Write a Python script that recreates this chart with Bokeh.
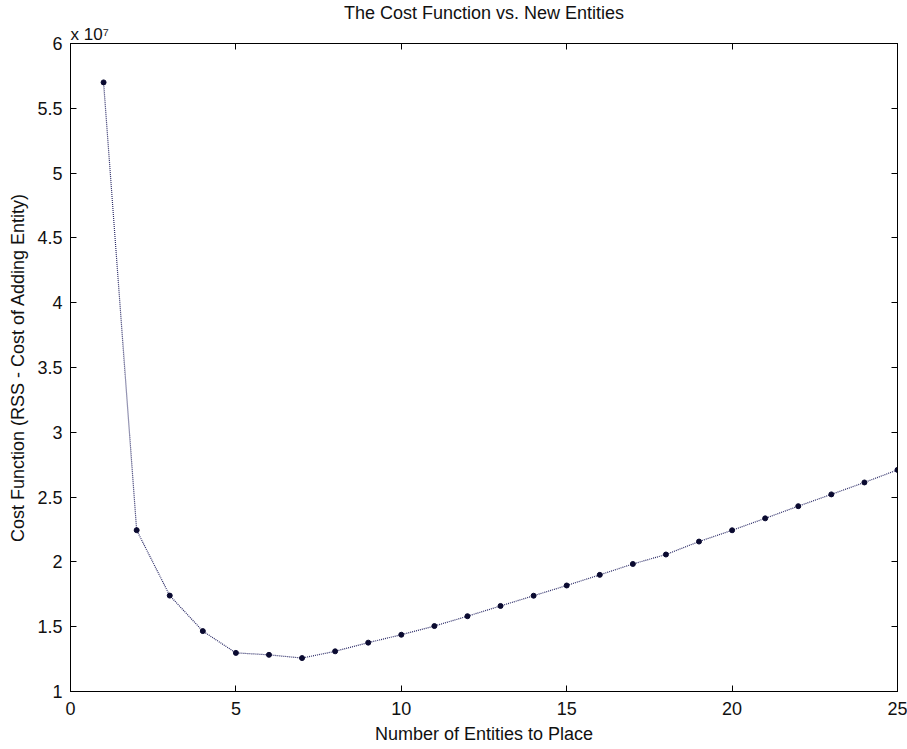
from bokeh.plotting import figure
from bokeh.models import LinearAxis, Title, FixedTicker, CustomJSTickFormatter, Range1d
from bokeh.embed import file_html
from bokeh.resources import INLINE

# ---- data ----
entities = list(range(1, 26))
cost = [5.70e7, 2.245e7, 1.74e7, 1.466e7, 1.298e7, 1.283e7, 1.258e7, 1.31e7,
        1.377e7, 1.438e7, 1.505e7, 1.581e7, 1.66e7, 1.739e7, 1.818e7, 1.90e7,
        1.984e7, 2.057e7, 2.157e7, 2.244e7, 2.336e7, 2.43e7, 2.521e7, 2.613e7,
        2.71e7]
x_ticks = [0, 5, 10, 15, 20, 25]
y_ticks = [1.0e7, 1.5e7, 2.0e7, 2.5e7, 3.0e7, 3.5e7, 4.0e7, 4.5e7, 5.0e7, 5.5e7, 6.0e7]
title_text = "The Cost Function vs. New Entities"
exponent_text = "x 10\u2077"
x_label = "Number of Entities to Place"
y_label = "Cost Function (RSS - Cost of Adding Entity)"

FONT = "Liberation Sans"
FS = "18px"

p = figure(width=907, height=749, output_backend="svg", toolbar_location=None,
           x_range=Range1d(0, 25), y_range=Range1d(1e7, 6e7),
           min_border_left=70, min_border_right=10, min_border_top=38, min_border_bottom=58,
           x_axis_type=None, y_axis_type=None)
p.grid.visible = False
p.outline_line_color = "black"
p.outline_line_width = 1
p.background_fill_color = "white"
p.border_fill_color = "white"

fmt_y = CustomJSTickFormatter(code="return String(Math.round(tick/1e6)/10);")
fmt_blank = CustomJSTickFormatter(code="return '';")

def style(ax):
    ax.major_tick_in = 6
    ax.major_tick_out = 0
    ax.minor_tick_in = 0
    ax.minor_tick_out = 0
    ax.axis_line_color = "black"
    ax.major_tick_line_color = "black"
    ax.major_label_text_font = FONT
    ax.major_label_text_font_size = FS
    ax.major_label_text_color = "#111111"
    ax.axis_label_text_font = FONT
    ax.axis_label_text_font_size = FS
    ax.axis_label_text_font_style = "normal"
    ax.axis_label_text_color = "#111111"

xb = LinearAxis(ticker=FixedTicker(ticks=x_ticks), axis_label=x_label)
style(xb)
xb.major_label_standoff = 10
xb.axis_label_standoff = 6
p.add_layout(xb, "below")

yl = LinearAxis(ticker=FixedTicker(ticks=y_ticks), formatter=fmt_y, axis_label=y_label)
style(yl)
yl.major_label_standoff = 8
yl.axis_label_standoff = 6
p.add_layout(yl, "left")

xt = LinearAxis(ticker=FixedTicker(ticks=x_ticks), formatter=fmt_blank)
style(xt)
xt.major_label_standoff = 0
p.add_layout(xt, "above")

yr = LinearAxis(ticker=FixedTicker(ticks=y_ticks), formatter=fmt_blank)
style(yr)
yr.major_label_standoff = 0
p.add_layout(yr, "right")

sub = Title(text=exponent_text, align="left", text_font=FONT, text_font_size="17px",
            text_font_style="normal", text_color="#111111", standoff=0, offset=0,
            text_line_height=0.5)
p.add_layout(sub, "above")

p.title.text = title_text
p.title.align = "center"
p.title.text_font = FONT
p.title.text_font_size = FS
p.title.text_font_style = "normal"
p.title.text_color = "#111111"
p.title.offset = 0
p.title.standoff = 0

p.line(entities, cost, line_color="#2a2a66", line_width=1.2, line_dash="1 1")
p.scatter(entities, cost, size=5, fill_color="#0a0a30", line_color="#0a0a30")

open("out.html", "w").write(file_html(p, INLINE))
